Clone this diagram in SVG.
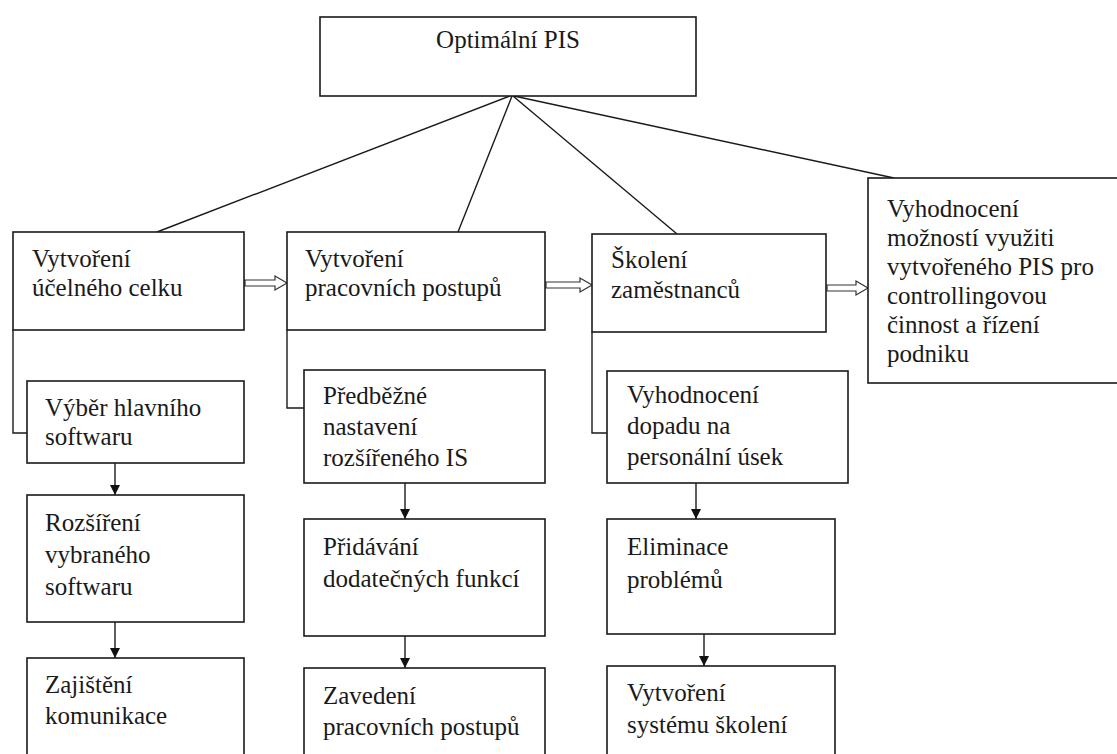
<svg xmlns="http://www.w3.org/2000/svg" width="1117" height="754" viewBox="0 0 1117 754">
<defs>
<marker id="ah" viewBox="0 0 10 10" refX="10" refY="5" markerWidth="10" markerHeight="10" markerUnits="userSpaceOnUse" orient="auto">
<path d="M0,0 L10,5 L0,10 z" fill="#111"/>
</marker>
</defs>
<style>
.box{fill:#fff;stroke:#1a1a1a;stroke-width:1.6}
.t{font-family:"Liberation Serif","Times New Roman",serif;font-size:25px;fill:#1a1a1a}
.ln{fill:none;stroke:#1a1a1a;stroke-width:1.4}
.harr{fill:#fff;stroke:#333;stroke-width:1.2}
</style>
<rect width="1117" height="754" fill="#fff"/>
<g id="connectors">
<line class="ln" x1="510" y1="96" x2="157" y2="232"/>
<line class="ln" x1="512" y1="96" x2="458" y2="232"/>
<line class="ln" x1="513" y1="96" x2="677" y2="234"/>
<line class="ln" x1="514" y1="96" x2="894" y2="178"/>
<polyline class="ln" points="13,330 13,433 27,433"/>
<polyline class="ln" points="287,330 287,408 304,408"/>
<polyline class="ln" points="592,332 592,433 607,433"/>
<line class="ln" x1="115" y1="463" x2="115" y2="495" marker-end="url(#ah)"/>
<line class="ln" x1="115" y1="622" x2="115" y2="658" marker-end="url(#ah)"/>
<line class="ln" x1="405" y1="483" x2="405" y2="519" marker-end="url(#ah)"/>
<line class="ln" x1="405" y1="636" x2="405" y2="668" marker-end="url(#ah)"/>
<line class="ln" x1="696" y1="483" x2="696" y2="519" marker-end="url(#ah)"/>
<line class="ln" x1="704" y1="634" x2="704" y2="666" marker-end="url(#ah)"/>
<polygon class="harr" points="245,280 275,280 275,276 287,283 275,290 275,286 245,286"/>
<polygon class="harr" points="546,282 580,282 580,278 592,285 580,292 580,288 546,288"/>
<polygon class="harr" points="827,285 856,285 856,281 868,288 856,295 856,291 827,291"/>
</g>
<g id="n0">
<rect class="box" x="320" y="17" width="376" height="79"/>
<text class="t" x="508" y="48" text-anchor="middle">Optimální PIS</text>
</g>
<g id="n1">
<rect class="box" x="13" y="232" width="231" height="98"/>
<text class="t" x="32" y="267">Vytvoření</text>
<text class="t" x="32" y="296">účelného celku</text>
</g>
<g id="n2">
<rect class="box" x="287" y="232" width="258" height="98"/>
<text class="t" x="305" y="267">Vytvoření</text>
<text class="t" x="305" y="296">pracovních postupů</text>
</g>
<g id="n3">
<rect class="box" x="592" y="234" width="234" height="98"/>
<text class="t" x="611" y="268">Školení</text>
<text class="t" x="611" y="298">zaměstnanců</text>
</g>
<g id="n4">
<rect class="box" x="868" y="178" width="250" height="205"/>
<text class="t" x="887" y="217">Vyhodnocení</text>
<text class="t" x="887" y="246">možností využiti</text>
<text class="t" x="887" y="275">vytvořeného PIS pro</text>
<text class="t" x="887" y="304">controllingovou</text>
<text class="t" x="887" y="333">činnost a řízení</text>
<text class="t" x="887" y="362">podniku</text>
</g>
<g id="n5">
<rect class="box" x="27" y="381" width="217" height="82"/>
<text class="t" x="45" y="416">Výběr hlavního</text>
<text class="t" x="45" y="445">softwaru</text>
</g>
<g id="n6">
<rect class="box" x="27" y="495" width="217" height="127"/>
<text class="t" x="45" y="531">Rozšíření</text>
<text class="t" x="45" y="563">vybraného</text>
<text class="t" x="45" y="595">softwaru</text>
</g>
<g id="n7">
<rect class="box" x="27" y="658" width="217" height="110"/>
<text class="t" x="45" y="693">Zajištění</text>
<text class="t" x="45" y="724">komunikace</text>
</g>
<g id="n8">
<rect class="box" x="304" y="370" width="241" height="113"/>
<text class="t" x="323" y="404">Předběžné</text>
<text class="t" x="323" y="435">nastavení</text>
<text class="t" x="323" y="466">rozšířeného IS</text>
</g>
<g id="n9">
<rect class="box" x="304" y="519" width="241" height="117"/>
<text class="t" x="323" y="555">Přidávání</text>
<text class="t" x="323" y="587">dodatečných funkcí</text>
</g>
<g id="n10">
<rect class="box" x="304" y="668" width="241" height="100"/>
<text class="t" x="323" y="704">Zavedení</text>
<text class="t" x="323" y="735">pracovních postupů</text>
</g>
<g id="n11">
<rect class="box" x="607" y="371" width="241" height="112"/>
<text class="t" x="627" y="403">Vyhodnocení</text>
<text class="t" x="627" y="434">dopadu na</text>
<text class="t" x="627" y="465">personální úsek</text>
</g>
<g id="n12">
<rect class="box" x="607" y="519" width="228" height="115"/>
<text class="t" x="627" y="555">Eliminace</text>
<text class="t" x="627" y="588">problémů</text>
</g>
<g id="n13">
<rect class="box" x="607" y="666" width="228" height="102"/>
<text class="t" x="627" y="701">Vytvoření</text>
<text class="t" x="627" y="733">systému školení</text>
</g>
</svg>
